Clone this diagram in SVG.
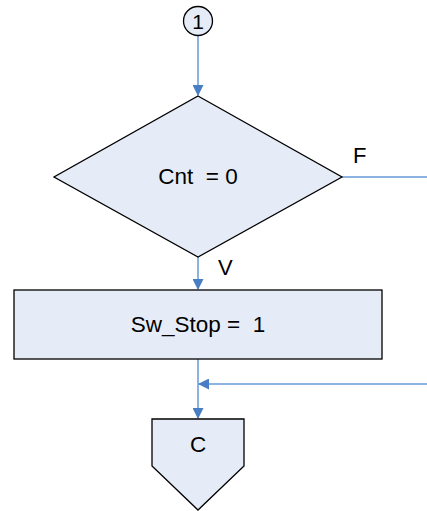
<svg xmlns="http://www.w3.org/2000/svg" width="427" height="511" viewBox="0 0 427 511">
<style>
.shape{fill:#E6ECF7;stroke:#000;stroke-width:1.3}
.conn{fill:none;stroke:#8DB3E2;stroke-width:2}
.t{font-family:"Liberation Sans",Arial,sans-serif;font-size:22.5px;fill:#000;text-anchor:middle}
.l{font-family:"Liberation Sans",Arial,sans-serif;font-size:22px;fill:#000}
</style>
<defs>
<marker id="ah" markerWidth="11" markerHeight="11" refX="10" refY="5.5" orient="auto" markerUnits="userSpaceOnUse">
<path d="M0,0 L11,5.5 L0,11 Z" fill="#4A7EC4"/>
</marker>
</defs>
<g id="connectors">
<line class="conn" x1="198" y1="36" x2="198" y2="95" marker-end="url(#ah)"/>
<line class="conn" x1="342" y1="177" x2="427" y2="177"/>
<line class="conn" x1="198" y1="257" x2="198" y2="289" marker-end="url(#ah)"/>
<line class="conn" x1="198" y1="359" x2="198" y2="418" marker-end="url(#ah)"/>
<line class="conn" x1="427" y1="384" x2="199" y2="384" marker-end="url(#ah)"/>
<text class="l" x="353" y="163">F</text>
<text class="l" x="218" y="275">V</text>
</g>
<g id="n1">
<circle class="shape" cx="198" cy="21" r="14.5"/>
<text class="t" x="198" y="29" style="font-size:21px">1</text>
</g>
<g id="decision">
<polygon class="shape" points="198,96 342,177 198,257 54,177"/>
<text class="t" x="198" y="184" xml:space="preserve">Cnt  = 0</text>
</g>
<g id="process">
<rect class="shape" x="14" y="290" width="368" height="69"/>
<text class="t" x="198" y="332" xml:space="preserve">Sw_Stop =  1</text>
</g>
<g id="offpage">
<polygon class="shape" points="152,419 244,419 244,466 198,510 152,466"/>
<text class="t" x="198" y="452">C</text>
</g>
</svg>
